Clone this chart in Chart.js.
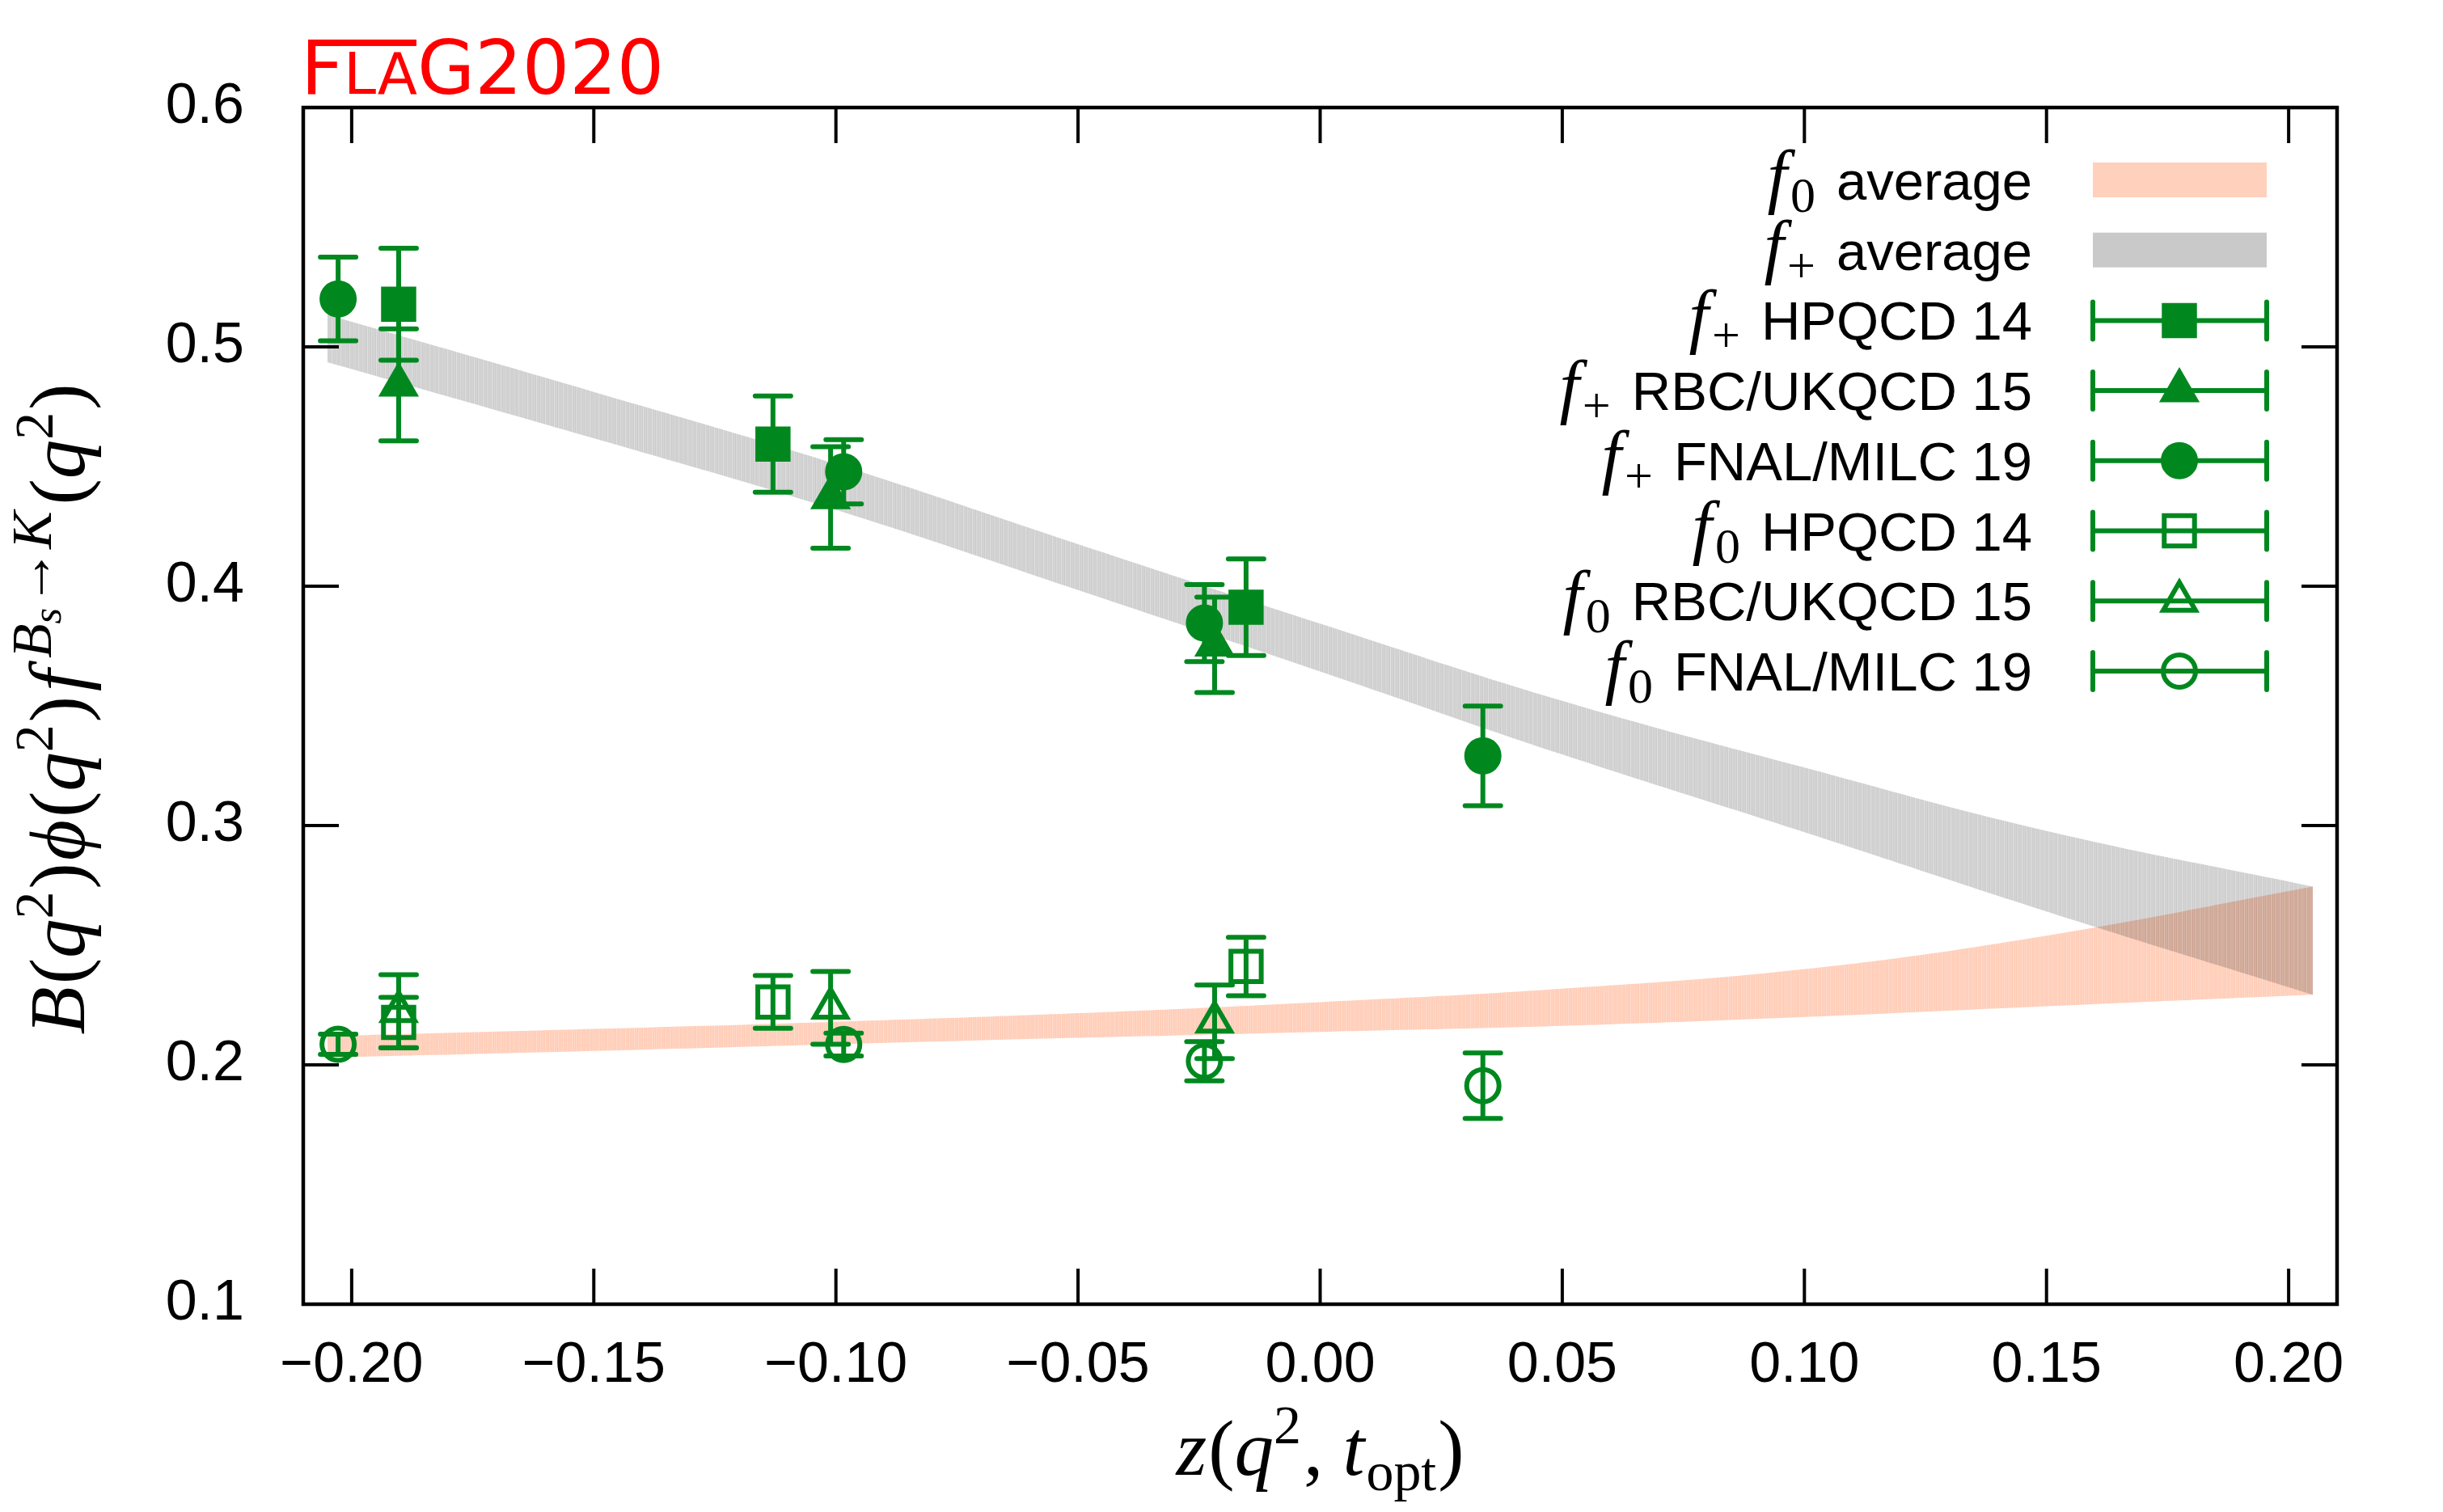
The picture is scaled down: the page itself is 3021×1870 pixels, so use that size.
<!DOCTYPE html>
<html>
<head>
<meta charset="utf-8">
<script src="https://cdn.jsdelivr.net/npm/chart.js@4.4.1/dist/chart.umd.min.js"></script>
<style>
  html, body { margin: 0; padding: 0; background: #fff; }
  canvas { display: block; }
</style>
</head>
<body>
<canvas id="myChart" width="3021" height="1870"></canvas>
<script>
const xTicks = [-0.20, -0.15, -0.10, -0.05, 0.00, 0.05, 0.10, 0.15, 0.20];
const yTicks = [0.1, 0.2, 0.3, 0.4, 0.5, 0.6];

// z positions of the lattice results
const zHpqcd = [-0.1903, -0.1130, -0.0153];
const zRbc = [-0.1903, -0.1011, -0.0218];
const zFnal = [-0.2028, -0.0984, -0.0239, 0.0336];

// f+ results
const fpHpqcd = [0.5178, 0.4594, 0.3912];
const fpHpqcdErr = [0.0234, 0.0201, 0.0202];
const fpRbc = [0.4841, 0.4371, 0.3755];
const fpRbcErr = [0.0234, 0.0212, 0.0199];
const fpFnal = [0.5200, 0.4478, 0.3846, 0.3291];
const fpFnalErr = [0.0175, 0.0134, 0.0161, 0.0208];

// f0 results
const f0Hpqcd = [0.2177, 0.2263, 0.2411];
const f0HpqcdErr = [0.0105, 0.0110, 0.0122];
const f0Rbc = [0.2224, 0.2238, 0.2180];
const f0RbcErr = [0.0153, 0.0152, 0.0154];
const f0Fnal = [0.2086, 0.2085, 0.2015, 0.1913];
const f0FnalErr = [0.0042, 0.0048, 0.0082, 0.0137];

// FLAG average bands (lower / upper edge)
const bandZ = [-0.205, -0.15, -0.10, -0.05, 0.00, 0.05, 0.10, 0.15, 0.205];
const fpBandLo = [0.4936, 0.4618, 0.4319, 0.3984, 0.3644, 0.3297, 0.2972, 0.2641, 0.2293];
const fpBandHi = [0.5134, 0.4812, 0.4511, 0.4176, 0.3844, 0.3521, 0.3242, 0.2977, 0.2745];
const f0BandLo = [0.2030, 0.2058, 0.2086, 0.2113, 0.2138, 0.2163, 0.2200, 0.2245, 0.2293];
const f0BandHi = [0.2120, 0.2150, 0.2180, 0.2216, 0.2262, 0.2318, 0.2400, 0.2540, 0.2745];

const green = "#00881f";
const none = "rgba(0,0,0,0)";

const canvas = document.getElementById("myChart");
const ctx = canvas.getContext("2d");

// striped fill like the gnuplot band
function stripes(cols) {
  const c = document.createElement("canvas");
  c.width = cols.length;
  c.height = 4;
  const g = c.getContext("2d");
  cols.forEach((col, i) => {
    g.fillStyle = col;
    g.fillRect(i, 0, 1, 4);
  });
  return ctx.createPattern(c, "repeat");
}
const grayFill = stripes(["#d0d0d0", "#d4d4d4", "#cccccc", "#dfdfdf", "#d2d2d2", "#cfcfcf", "#d6d6d6", "#cacaca", "#dbdbdb", "#d1d1d1", "#d3d3d3"]);
const orangeFill = stripes(["#ffcfba", "#ffd3c0", "#ffcbb5", "#ffdccd", "#ffd0bb", "#ffcdb8", "#ffd6c4", "#ffcab4", "#ffd9c9", "#ffcfba", "#ffd2bf"]);

const pts = (zs, ys) => zs.map((z, i) => ({ x: z, y: ys[i] }));

function band(lo, hi, fill, sub) {
  const base = {
    type: "line",
    borderWidth: 0,
    pointRadius: 0,
    tension: 0.4,
    order: 5,
  };
  return [
    Object.assign({}, base, { label: "lo", data: pts(bandZ, lo), fill: false }),
    Object.assign({}, base, { label: "hi", data: pts(bandZ, hi), fill: "-1", backgroundColor: fill, sub: sub }),
  ];
}

function series(sub, name, zs, ys, errs, style, filled) {
  const r = style === "rect" ? 26.5 : style === "triangle" ? 23 : 20;
  return {
    type: "scatter",
    label: name,
    sub: sub,
    data: pts(zs, ys),
    errors: errs,
    pointStyle: style,
    pointRadius: r,
    borderWidth: 6,
    borderColor: green,
    backgroundColor: filled ? green : none,
    order: 1,
  };
}

const datasets = [
  ...band(f0BandLo, f0BandHi, orangeFill, "0"),
  ...band(fpBandLo, fpBandHi, grayFill, "+"),
  series("+", "HPQCD 14", zHpqcd, fpHpqcd, fpHpqcdErr, "rect", true),
  series("+", "RBC/UKQCD 15", zRbc, fpRbc, fpRbcErr, "triangle", true),
  series("+", "FNAL/MILC 19", zFnal, fpFnal, fpFnalErr, "circle", true),
  series("0", "HPQCD 14", zHpqcd, f0Hpqcd, f0HpqcdErr, "rect", false),
  series("0", "RBC/UKQCD 15", zRbc, f0Rbc, f0RbcErr, "triangle", false),
  series("0", "FNAL/MILC 19", zFnal, f0Fnal, f0FnalErr, "circle", false),
];

const serif = (s) => s + 'px "Liberation Serif", "DejaVu Serif", serif';
const serifI = (s) => "italic " + s + 'px "Liberation Serif", "DejaVu Serif", serif';
const sans = (s) => s + 'px "Liberation Sans", Arial, sans-serif';
const dejavu = (s) => s + 'px "DejaVu Sans", sans-serif';

// draw a list of text pieces one after the other
function drawRuns(c, runs, x, y, align) {
  let w = 0;
  runs.forEach((r) => {
    c.font = r.font;
    r.w = c.measureText(r.t).width + (r.sp || 0);
    w += r.w;
  });
  let cx = align === "right" ? x - w : align === "center" ? x - w / 2 : x;
  runs.forEach((r) => {
    c.font = r.font;
    c.fillText(r.t, cx, y + (r.dy || 0));
    cx += r.w;
  });
  return w;
}

const M = 97;
const sup = (t) => ({ t: t, font: serif(M * 0.7), dy: -M * 0.4, sp: 3 });
const yTitle = [
  { t: "B", font: serifI(M), sp: 3 },
  { t: "(", font: serif(M) },
  { t: "q", font: serifI(M) },
  sup("2"),
  { t: ")", font: serif(M), sp: 3 },
  { t: "\u03d5", font: serifI(M), sp: 3 },
  { t: "(", font: serif(M) },
  { t: "q", font: serifI(M) },
  sup("2"),
  { t: ")", font: serif(M), sp: 6 },
  { t: "f", font: serifI(M), sp: 14 },
  { t: "B", font: serifI(M * 0.72), dy: -M * 0.42 },
  { t: "s", font: serifI(M * 0.52), dy: -M * 0.3, sp: 3 },
  { t: "\u2192", font: serif(M * 0.72), dy: -M * 0.42 },
  { t: "K", font: serifI(M * 0.72), dy: -M * 0.42, sp: 8 },
  { t: "(", font: serif(M) },
  { t: "q", font: serifI(M) },
  sup("2"),
  { t: ")", font: serif(M) },
];
const xTitle = [
  { t: "z", font: serifI(M), sp: 2 },
  { t: "(", font: serif(M) },
  { t: "q", font: serifI(M) },
  sup("2"),
  { t: ", ", font: serif(M) },
  { t: "t", font: serifI(M), sp: 2 },
  { t: "opt", font: serif(M * 0.7), dy: M * 0.2, sp: 2 },
  { t: ")", font: serif(M) },
];

const extras = {
  id: "extras",
  beforeDraw(chart) {
    chart.ctx.globalCompositeOperation = "multiply";
  },
  beforeDatasetDraw(chart, args) {
    const ds = chart.data.datasets[args.index];
    if (!ds.errors) return;
    const c = chart.ctx;
    c.globalCompositeOperation = "source-over";
    const xs = chart.scales.x;
    const ys = chart.scales.y;
    c.strokeStyle = green;
    c.lineWidth = 6;
    c.lineCap = "round";
    ds.data.forEach((p, i) => {
      const px = xs.getPixelForValue(p.x);
      const t = ys.getPixelForValue(p.y + ds.errors[i]);
      const b = ys.getPixelForValue(p.y - ds.errors[i]);
      c.beginPath();
      c.moveTo(px, t);
      c.lineTo(px, b);
      c.moveTo(px - 22, t);
      c.lineTo(px + 22, t);
      c.moveTo(px - 22, b);
      c.lineTo(px + 22, b);
      c.stroke();
    });
  },
  afterDatasetsDraw(chart) {
    chart.ctx.globalCompositeOperation = "source-over";
  },
  afterDraw(chart) {
    const c = chart.ctx;
    const a = chart.chartArea;
    const xs = chart.scales.x;
    const ys = chart.scales.y;
    c.save();
    c.globalCompositeOperation = "source-over";

    // frame + inward ticks on all four sides
    c.strokeStyle = "#000";
    c.lineWidth = 4.5;
    c.lineCap = "butt";
    c.strokeRect(a.left, a.top, a.right - a.left, a.bottom - a.top);
    c.lineWidth = 4;
    c.beginPath();
    xTicks.forEach((v) => {
      const px = xs.getPixelForValue(v);
      c.moveTo(px, a.bottom);
      c.lineTo(px, a.bottom - 44);
      c.moveTo(px, a.top);
      c.lineTo(px, a.top + 44);
    });
    yTicks.forEach((v) => {
      const py = ys.getPixelForValue(v);
      c.moveTo(a.left, py);
      c.lineTo(a.left + 44, py);
      c.moveTo(a.right, py);
      c.lineTo(a.right - 44, py);
    });
    c.stroke();

    // legend
    const textRight = 2513;
    const sx0 = 2588, sx1 = 2803, sxm = 2695;
    let rowY = 223;
    const rows = chart.data.datasets.filter((d) => d.sub && d.type === "line");
    const marks = chart.data.datasets.filter((d) => d.errors);
    c.fillStyle = "#000";
    c.textBaseline = "alphabetic";
    rows.concat(marks).forEach((d) => {
      const label = d.errors ? d.label : "average";
      drawRuns(c, [
        { t: "f", font: serifI(88), sp: 4 },
        { t: d.sub, font: serif(62), dy: 15, sp: 26 },
        { t: label, font: sans(67) },
      ], textRight, rowY + 24, "right");
      if (!d.errors) {
        c.fillStyle = d.sub === "0" ? "#ffd0bb" : "#c9c9c9";
        c.fillRect(sx0, rowY - 22, sx1 - sx0, 43);
        c.fillStyle = "#000";
      } else {
        c.strokeStyle = green;
        c.lineWidth = 6;
        c.lineCap = "round";
        c.beginPath();
        c.moveTo(sx0, rowY);
        c.lineTo(sx1, rowY);
        c.moveTo(sx0, rowY - 23);
        c.lineTo(sx0, rowY + 23);
        c.moveTo(sx1, rowY - 23);
        c.lineTo(sx1, rowY + 23);
        c.stroke();
        c.fillStyle = d.backgroundColor;
        Chart.helpers.drawPoint(c, { pointStyle: d.pointStyle, radius: d.pointRadius, rotation: 0, borderWidth: 6 }, sxm, rowY);
        c.fillStyle = "#000";
      }
      rowY += 86.7;
    });

    // axis titles
    c.fillStyle = "#000";
    drawRuns(c, xTitle, (a.left + a.right) / 2, 1824, "center");
    c.save();
    c.translate(104, 877);
    c.rotate(-Math.PI / 2);
    drawRuns(c, yTitle, 0, 0, "center");
    c.restore();

    // FLAG 2020 logo
    c.fillStyle = "#ff0000";
    const big = 92, small = 72, base = 116;
    const x = 372;
    c.font = dejavu(big);
    c.fillText("F", x, base);
    const fW = c.measureText("F").width;
    c.font = dejavu(small);
    c.fillText("LA", x + fW, base);
    const laW = c.measureText("LA").width;
    c.fillRect(x + 9, base - 0.729 * big, fW + laW - 10, 8);
    c.font = dejavu(big);
    c.fillText("G2020", x + fW + laW, base);

    c.restore();
  },
};

new Chart(ctx, {
  type: "scatter",
  data: { datasets: datasets },
  options: {
    responsive: false,
    animation: false,
    events: [],
    layout: { padding: { top: 133, right: 131, left: 0, bottom: 0 } },
    scales: {
      x: {
        type: "linear",
        min: -0.21,
        max: 0.21,
        afterBuildTicks: (s) => { s.ticks = xTicks.map((v) => ({ value: v })); },
        afterFit: (s) => { s.height = 257; },
        grid: { display: false, drawTicks: false },
        border: { display: false },
        ticks: {
          autoSkip: false,
          maxRotation: 0,
          padding: 35,
          color: "#000",
          font: { family: '"Liberation Sans", Arial, sans-serif', size: 70 },
          callback: (v) => v.toFixed(2).replace("-", "\u2212"),
        },
      },
      y: {
        type: "linear",
        min: 0.1,
        max: 0.6,
        afterBuildTicks: (s) => { s.ticks = yTicks.map((v) => ({ value: v })); },
        afterFit: (s) => { s.width = 375; },
        grid: { display: false, drawTicks: false },
        border: { display: false },
        ticks: {
          padding: 73,
          color: "#000",
          font: { family: '"Liberation Sans", Arial, sans-serif', size: 70 },
          callback: (v) => v.toFixed(1),
        },
      },
    },
    plugins: {
      legend: { display: false },
      tooltip: { enabled: false },
    },
  },
  plugins: [extras],
});
</script>
</body>
</html>
